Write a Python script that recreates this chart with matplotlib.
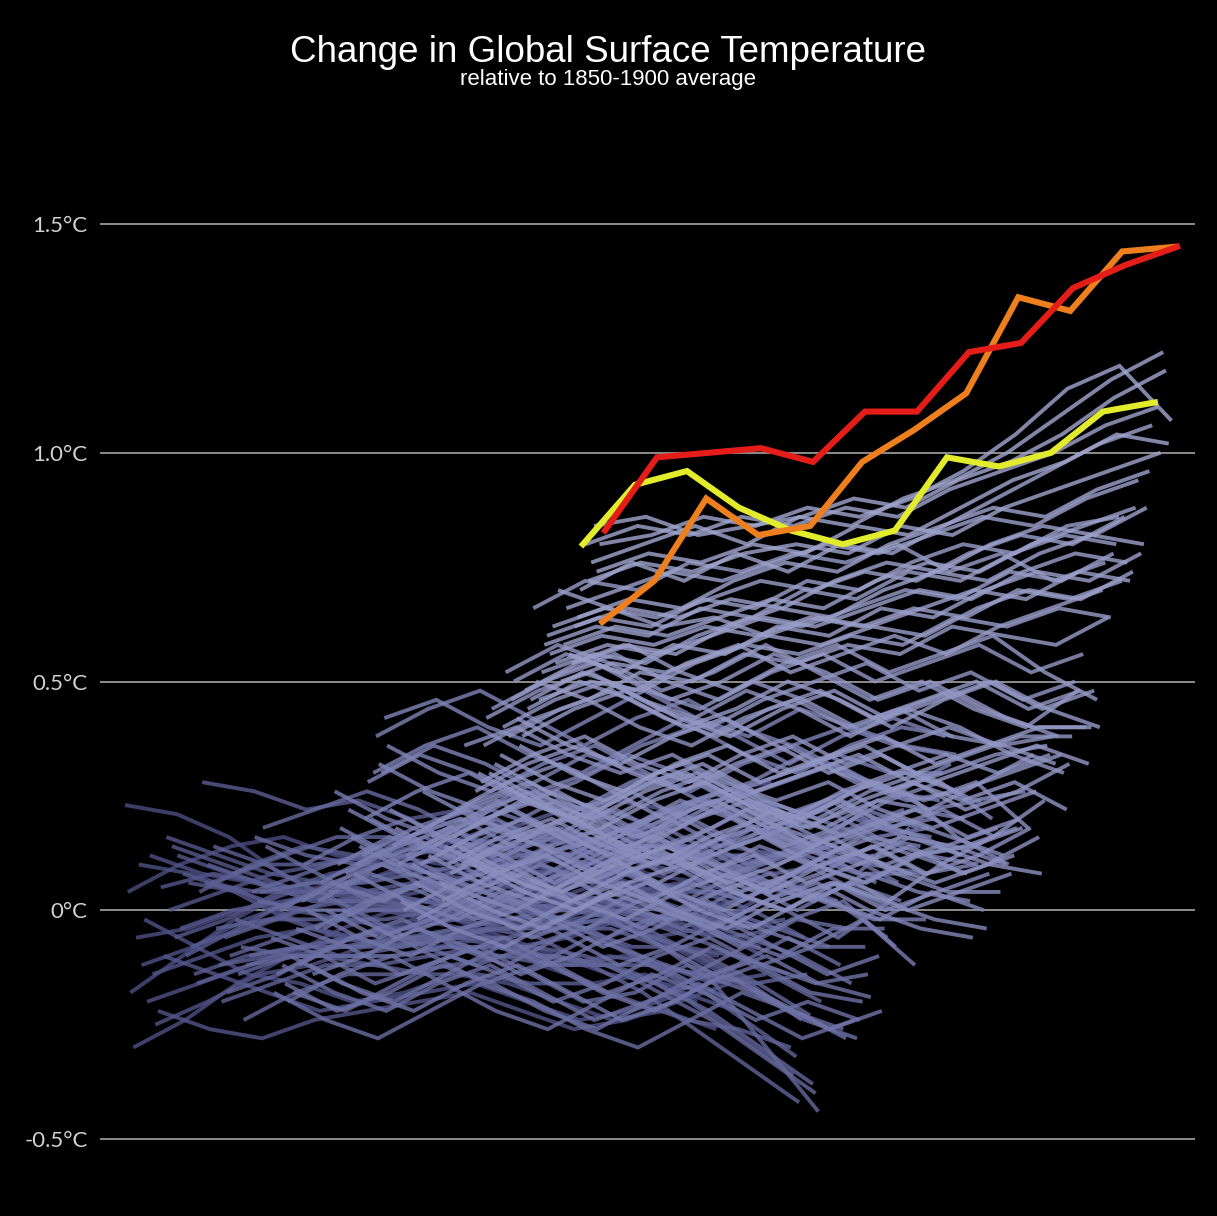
import numpy as np
import matplotlib
matplotlib.use("Agg")
import matplotlib.pyplot as plt
from matplotlib.colors import LinearSegmentedColormap

# ---- data: monthly anomalies (hundredths of deg C), one row per year ----
t1850s = [
    [23, 21, 16, 8, 2, -4, -8, -6, -12, -16, -14, -20],
    [4, 10, 14, 16, 12, 10, 14, 18, 16, 12, 8, 6],
    [-18, -10, -2, 4, 8, 12, 10, 14, 12, 8, 4, 6],
    [-30, -24, -16, -10, -4, 0, 4, 6, 2, 6, 10, 12],
    [-6, -4, 0, 4, 6, 2, -2, 2, 6, 8, 4, 0],
    [10, 8, 4, -2, -6, -4, 0, 2, -2, -6, -2, -6],
    [-12, -8, -2, 2, 4, 2, -2, -6, -10, -14, -16, -18],
    [-2, -8, -14, -16, -20, -18, -14, -16, -20, -24, -22, -26],
    [-20, -16, -12, -8, -6, -4, -6, -2, 2, -2, -8, -10],
    [12, 8, 6, 4, 6, 10, 8, 10, 12, 6, 0, -6],
]
t1860s = [
    [-14, -10, -6, -4, -6, -2, -4, -8, -6, -2, -8, -14],
    [-25, -20, -14, -12, -8, -6, -4, -8, -12, -10, -14, -20],
    [-22, -26, -28, -24, -22, -20, -18, -22, -26, -24, -20, -16],
    [5, 8, 6, 4, 2, 4, 8, 6, 2, 4, 6, 8],
    [-10, -14, -18, -22, -20, -18, -16, -20, -24, -22, -18, -22],
    [16, 12, 8, 6, 4, 2, 4, 6, 8, 4, 0, 2],
    [0, 4, 8, 10, 12, 14, 10, 8, 10, 12, 10, 12],
    [14, 10, 6, 2, 0, -2, 2, 4, 0, 2, 6, 4],
    [-6, -2, 4, 8, 10, 8, 6, 10, 14, 10, 8, 10],
    [12, 8, 4, 2, 4, 6, 4, 0, 2, 6, 2, -4],
]
t1870s = [
    [-4, 0, 2, 4, 2, -2, 0, 4, 2, 2, -2, 0],
    [8, 4, -2, -6, -8, -6, -2, -4, -2, -6, -4, 2],
    [-10, -4, 2, 6, 8, 12, 10, 8, 6, 6, 4, 2],
    [6, 4, 0, -2, -4, -2, 2, 0, 2, -2, -4, -8],
    [-8, -4, 0, 2, 0, -2, 0, 4, 2, 0, -4, -10],
    [-14, -10, -8, -6, -8, -6, -8, -12, -10, -12, -16, -14],
    [-16, -12, -8, -6, -4, -2, -4, -2, 2, 4, 8, 12],
    [4, 10, 14, 12, 16, 20, 18, 22, 24, 22, 26, 28],
    [28, 26, 22, 24, 20, 22, 18, 16, 18, 14, 12, 10],
    [6, 4, 4, 4, 6, 4, 0, 2, 0, -2, -2, -4],
]
t1880s = [
    [10, 6, 2, 2, 0, -2, 0, -2, 0, -4, -6, -4],
    [6, 10, 10, 12, 14, 12, 10, 8, 8, 4, 4, 0],
    [14, 10, 4, 4, 2, 0, 2, 2, 4, 0, -4, -2],
    [-4, -2, -2, 0, 2, 0, 0, -4, -8, -8, -10, -14],
    [-12, -10, -10, -12, -14, -14, -16, -16, -20, -24, -26, -30],
    [-20, -16, -12, -12, -10, -8, -8, -10, -14, -20, -28, -36],
    [-6, -2, 2, 2, 0, -2, -2, -4, -10, -16, -24, -32],
    [-18, -14, -8, -8, -6, -4, -6, -12, -18, -26, -34, -42],
    [-10, -6, -2, -2, 0, 2, 0, 0, -4, -10, -16, -24],
    [8, 12, 16, 16, 14, 12, 12, 10, 6, 4, 0, -6],
]
t1890s = [
    [-2, -6, -10, -10, -8, -8, -10, -12, -12, -14, -16, -14],
    [-14, -10, -8, -6, -6, -4, -4, -2, -6, -10, -16, -23],
    [-8, -10, -10, -10, -8, -10, -12, -12, -16, -22, -30, -38],
    [-24, -18, -14, -14, -12, -10, -10, -12, -18, -24, -32, -40],
    [-12, -10, -10, -8, -6, -6, -4, -4, -8, -16, -30, -44],
    [-10, -8, -8, -6, -4, -2, 0, 0, -4, -8, -14, -20],
    [4, 8, 12, 12, 14, 16, 16, 14, 14, 12, 12, 14],
    [16, 12, 10, 10, 12, 14, 16, 14, 12, 10, 8, 10],
    [2, 0, 0, 0, 2, 2, 0, -2, -2, 0, -4, -8],
    [4, 6, 6, 8, 10, 10, 12, 14, 14, 14, 12, 14],
]
t1900s = [
    [18, 22, 26, 22, 16, 12, 14, 18, 14, 8, 4, 8],
    [14, 8, 2, 6, 10, 12, 6, 0, -4, 2, 6, 2],
    [0, 4, -2, -8, -12, -8, -4, -10, -16, -12, -6, -12],
    [-6, -10, -16, -12, -8, -14, -20, -18, -12, -16, -22, -26],
    [-18, -24, -28, -22, -16, -20, -26, -30, -24, -18, -22, -28],
    [-14, -8, -4, -10, -16, -12, -6, -10, -14, -8, -2, -4],
    [0, 6, 10, 4, -2, 2, 8, 4, -2, -6, -10, -16],
    [-12, -18, -22, -16, -12, -18, -24, -20, -16, -22, -28, -24],
    [-16, -22, -18, -12, -16, -22, -26, -20, -14, -18, -24, -28],
    [-20, -14, -10, -16, -22, -26, -20, -14, -18, -24, -20, -24],
]
t1910s = [
    [-10, -16, -20, -14, -8, -12, -18, -22, -16, -12, -18, -20],
    [-18, -22, -16, -10, -14, -20, -16, -10, -6, -12, -8, -8],
    [-4, -8, -14, -10, -6, -12, -18, -14, -8, -12, -16, -14],
    [-12, -6, -2, -8, -12, -6, -2, -8, -14, -10, -16, -19],
    [2, 8, 12, 6, 2, 8, 14, 18, 12, 6, 10, 12],
    [10, 16, 20, 14, 10, 16, 22, 16, 10, 6, 12, 6],
    [0, -6, -10, -4, 0, -6, -12, -8, -2, -8, -14, -10],
    [-12, -18, -22, -16, -12, -18, -24, -20, -14, -20, -26, -22],
    [-14, -10, -4, -8, -14, -10, -4, 0, -6, -10, -4, -4],
    [-4, 2, 6, 0, -4, 2, 8, 4, -2, 4, 2, -6],
]
t1920s = [
    [2, 8, 4, -2, 2, 8, 4, -2, 4, 0, -6, 2],
    [6, 12, 16, 10, 6, 12, 8, 2, 8, 12, 6, 0],
    [-4, 2, 6, 0, -6, -2, 4, -2, -8, -2, 2, -8],
    [0, -6, -2, 4, 0, -4, 2, 6, 2, 8, 12, 6],
    [4, 10, 6, 0, 6, 2, -4, 2, 6, 0, 6, 2],
    [6, 2, 8, 4, 10, 6, 12, 16, 10, 14, 18, 22],
    [26, 20, 16, 22, 18, 12, 18, 24, 20, 14, 20, 16],
    [10, 16, 12, 6, 12, 16, 10, 14, 18, 12, 8, 18],
    [18, 12, 16, 20, 14, 8, 12, 6, 10, 14, 8, 8],
    [0, -6, -2, 4, -2, -8, -4, 2, -4, -8, -2, -12],
]
t1930s = [
    [8, 14, 18, 12, 16, 22, 18, 24, 20, 14, 22, 18],
    [22, 16, 12, 18, 24, 20, 14, 18, 24, 20, 16, 14],
    [16, 10, 6, 12, 18, 14, 8, 12, 18, 14, 10, 8],
    [8, 2, -2, 4, 8, 2, -2, 4, 8, 2, -2, -2],
    [10, 16, 20, 14, 10, 16, 20, 14, 18, 22, 16, 18],
    [14, 8, 4, 10, 14, 8, 12, 16, 10, 14, 18, 16],
    [12, 18, 22, 16, 12, 18, 22, 16, 20, 24, 18, 20],
    [20, 26, 30, 24, 20, 26, 30, 24, 28, 32, 26, 30],
    [28, 34, 30, 24, 28, 34, 30, 24, 28, 32, 26, 24],
    [20, 14, 20, 26, 22, 28, 32, 26, 30, 34, 30, 30],
]
t1940s = [
    [30, 36, 40, 34, 30, 36, 42, 38, 32, 38, 42, 38],
    [38, 44, 48, 42, 36, 42, 46, 40, 36, 40, 36, 34],
    [32, 26, 22, 28, 34, 30, 26, 32, 36, 30, 26, 32],
    [30, 36, 32, 26, 30, 36, 40, 34, 30, 36, 40, 38],
    [42, 46, 40, 36, 42, 48, 42, 38, 44, 40, 36, 34],
    [36, 30, 26, 32, 36, 30, 24, 28, 34, 28, 24, 26],
    [22, 16, 12, 18, 22, 16, 12, 18, 14, 10, 16, 12],
    [14, 20, 24, 18, 14, 20, 24, 18, 14, 18, 22, 20],
    [18, 12, 8, 14, 18, 12, 8, 14, 10, 6, 12, 8],
    [10, 16, 12, 6, 12, 16, 10, 6, 2, 8, 4, 2],
]
t1950s = [
    [2, -4, -8, -2, 4, 0, -4, 2, 6, 0, -4, -6],
    [0, 6, 10, 4, 8, 14, 10, 4, 8, 14, 8, 10],
    [12, 18, 22, 16, 12, 18, 22, 16, 12, 16, 12, 10],
    [16, 22, 26, 20, 16, 22, 26, 20, 24, 28, 22, 24],
    [10, 4, 0, 6, 10, 4, 0, 6, 2, -2, 4, 0],
    [6, 0, -4, 2, 6, 0, -4, 2, 6, 2, -2, -4],
    [-2, 4, 8, 2, -2, 4, 8, 2, 6, 0, 4, 8],
    [10, 16, 20, 14, 18, 24, 20, 14, 18, 24, 28, 20],
    [26, 20, 16, 22, 26, 20, 14, 18, 24, 18, 22, 16],
    [18, 24, 28, 22, 16, 20, 26, 20, 24, 18, 14, 18],
]
t1960s = [
    [12, 6, 2, 8, 14, 10, 4, 8, 14, 8, 4, 4],
    [16, 22, 26, 20, 16, 22, 26, 20, 16, 20, 16, 12],
    [14, 20, 24, 18, 12, 16, 22, 18, 12, 16, 14, 10],
    [12, 18, 14, 8, 14, 20, 24, 18, 22, 26, 16, 10],
    [6, 0, -4, 2, 6, 0, -4, 2, 6, 0, 4, 8],
    [2, 8, 12, 6, 2, 8, 12, 6, 10, 14, 8, 12],
    [14, 8, 4, 10, 14, 8, 4, 10, 16, 12, 14, 18],
    [10, 16, 20, 14, 10, 16, 20, 14, 18, 22, 16, 20],
    [8, 14, 18, 12, 6, 12, 16, 10, 6, 12, 14, 18],
    [16, 22, 26, 20, 26, 30, 24, 20, 26, 30, 24, 26],
]
t1970s = [
    [22, 28, 32, 26, 20, 24, 18, 22, 28, 24, 28, 18],
    [14, 8, 4, 10, 14, 8, 4, 10, 14, 8, 12, 18],
    [10, 16, 20, 14, 10, 16, 22, 18, 24, 22, 28, 34],
    [36, 40, 34, 30, 34, 28, 24, 28, 22, 18, 22, 26],
    [12, 6, 2, 8, 12, 6, 10, 16, 10, 6, 10, 16],
    [18, 24, 20, 14, 18, 24, 18, 14, 10, 14, 10, 8],
    [10, 4, 0, 6, 10, 4, 0, 6, 2, 10, 16, 24],
    [26, 32, 36, 30, 26, 32, 36, 30, 26, 30, 34, 36],
    [30, 24, 20, 26, 30, 24, 20, 26, 30, 34, 30, 34],
    [28, 34, 38, 32, 28, 34, 38, 32, 36, 40, 36, 38],
]
t1980s = [
    [36, 42, 46, 40, 36, 42, 46, 40, 44, 38, 36, 32],
    [42, 48, 52, 46, 42, 48, 44, 38, 44, 48, 42, 38],
    [30, 24, 20, 26, 30, 24, 20, 26, 30, 26, 30, 34],
    [44, 50, 54, 48, 44, 50, 46, 40, 44, 40, 34, 30],
    [32, 26, 22, 28, 32, 26, 30, 34, 28, 24, 28, 22],
    [28, 22, 18, 24, 28, 22, 18, 24, 28, 22, 26, 32],
    [34, 28, 24, 30, 34, 28, 32, 36, 30, 34, 38, 38],
    [40, 46, 50, 44, 40, 46, 50, 54, 48, 52, 46, 50],
    [52, 58, 54, 48, 52, 58, 52, 46, 50, 44, 40, 48],
    [38, 44, 48, 42, 38, 44, 48, 42, 46, 50, 44, 48],
]
t1990s = [
    [46, 52, 56, 50, 46, 52, 56, 50, 54, 58, 52, 56],
    [50, 56, 52, 46, 50, 56, 52, 46, 50, 44, 40, 40],
    [42, 36, 32, 38, 42, 36, 30, 34, 28, 32, 36, 32],
    [36, 30, 26, 32, 36, 30, 34, 38, 32, 36, 40, 40],
    [38, 44, 48, 42, 38, 44, 48, 42, 46, 50, 44, 48],
    [48, 54, 58, 52, 48, 54, 58, 52, 56, 60, 52, 46],
    [44, 50, 46, 40, 44, 50, 46, 40, 46, 50, 44, 40],
    [46, 52, 48, 54, 58, 52, 56, 60, 56, 62, 66, 70],
    [66, 72, 70, 76, 74, 78, 76, 80, 74, 78, 72, 76],
    [50, 46, 52, 50, 56, 54, 58, 56, 62, 60, 58, 64],
]
t2000s = [
    [46, 50, 48, 54, 58, 56, 60, 58, 64, 62, 66, 64],
    [52, 56, 54, 60, 64, 62, 66, 70, 68, 74, 72, 78],
    [58, 62, 60, 66, 64, 70, 68, 74, 72, 78, 82, 80],
    [60, 64, 62, 68, 66, 72, 70, 76, 80, 78, 84, 86],
    [56, 60, 58, 62, 60, 64, 62, 66, 64, 70, 68, 72],
    [62, 66, 64, 68, 72, 70, 74, 72, 78, 82, 80, 86],
    [54, 58, 56, 60, 64, 62, 66, 70, 68, 74, 78, 76],
    [70, 66, 62, 64, 60, 64, 62, 66, 70, 68, 74, 72],
    [50, 54, 52, 56, 60, 58, 62, 60, 66, 70, 68, 74],
    [58, 62, 60, 64, 68, 66, 72, 76, 74, 80, 84, 88],
]
t2010s = [
    [66, 70, 74, 72, 76, 80, 78, 82, 86, 84, 90, 94],
    [56, 52, 58, 56, 62, 60, 66, 64, 70, 74, 72, 78],
    [54, 58, 56, 62, 66, 64, 70, 74, 72, 78, 82, 80],
    [62, 66, 64, 68, 66, 72, 76, 74, 80, 84, 82, 88],
    [64, 68, 66, 72, 76, 74, 80, 84, 88, 86, 92, 96],
    [70, 76, 72, 78, 74, 80, 78, 84, 90, 96, 102, 106],
    [80, 93, 96, 88, 83, 80, 83, 99, 97, 100, 109, 111],
    [80, 84, 82, 86, 84, 88, 86, 92, 96, 100, 106, 110],
    [72, 76, 74, 78, 80, 78, 84, 82, 88, 92, 96, 100],
    [76, 80, 84, 80, 86, 84, 90, 94, 100, 108, 116, 122],
]
t2020s = [
    [84, 86, 82, 84, 86, 90, 88, 94, 98, 104, 112, 118],
    [74, 78, 76, 80, 78, 84, 82, 88, 94, 98, 104, 102],
    [80, 82, 86, 84, 88, 86, 90, 96, 104, 114, 119, 107],
    [63, 72, 90, 82, 84, 98, 105, 113, 134, 131, 144, 145],
    [83, 99, 100, 101, 98, 109, 109, 122, 124, 136, 141, 145],
]
first_year = 1850
highlight_years = [2016, 2023, 2024]
highlight_colors = ["#e2ec2c", "#ee7f1e", "#e41d18"]
y_ticks = [-0.5, 0.0, 0.5, 1.0, 1.5]
y_tick_labels = ["-0.5°C", "0°C", "0.5°C", "1.0°C", "1.5°C"]
title = "Change in Global Surface Temperature"
subtitle = "relative to 1850-1900 average"

# ---- assemble ----
rows = (t1850s + t1860s + t1870s + t1880s + t1890s + t1900s + t1910s + t1920s
        + t1930s + t1940s + t1950s + t1960s + t1970s + t1980s + t1990s
        + t2000s + t2010s + t2020s)
temps = np.array(rows, dtype=float) / 100.0
years = np.arange(first_year, first_year + len(rows))

YEAR_SHIFT = 0.05305   # horizontal offset of each year's line (in month units)
months = np.arange(12)

fig = plt.figure(figsize=(12.17, 12.16), dpi=100, facecolor="black")
ax = fig.add_axes([100 / 1217, 1 - 1180 / 1216, 1095 / 1217, 1030 / 1216])
ax.set_facecolor("black")

cmap = LinearSegmentedColormap.from_list("g", ["#4a4d80", "#7b80b3", "#a0a5cd"])
n = len(years)
for i, yr in enumerate(years):
    if yr in highlight_years:
        continue
    ax.plot(months + i * YEAR_SHIFT, temps[i], color=cmap(i / (n - 1)),
            lw=2.8, alpha=0.82, solid_capstyle="butt", solid_joinstyle="miter",
            zorder=2 + i * 0.001)

for yr, c in zip(highlight_years, highlight_colors):
    i = int(yr - first_year)
    ax.plot(months + i * YEAR_SHIFT, temps[i], color=c, lw=4.4,
            solid_joinstyle="miter", zorder=5)

for t in y_ticks:
    ax.axhline(t, color="#8c8c8c", lw=1.4, zorder=1)

ax.set_xlim(-25 / 52, 1070 / 52)
top = 1.5 + (224 - 150) / 457.5
bottom = -0.5 - (1180 - 1139) / 457.5
ax.set_ylim(bottom, top)
ax.set_yticks(y_ticks)
ax.set_yticklabels(y_tick_labels, fontsize=16, color="#d2d2d2", family="Lato")
ax.tick_params(axis="y", length=0, pad=9)
ax.set_xticks([])
for s in ax.spines.values():
    s.set_visible(False)

fig.text(0.5, 1 - 52 / 1216, title, ha="center", va="center", color="white",
         fontsize=26.5, family="Liberation Sans")
fig.text(0.5, 1 - 80 / 1216, subtitle, ha="center", va="center", color="white",
         fontsize=16, family="Liberation Sans")

fig.savefig("out.png", dpi=100, facecolor="black")
